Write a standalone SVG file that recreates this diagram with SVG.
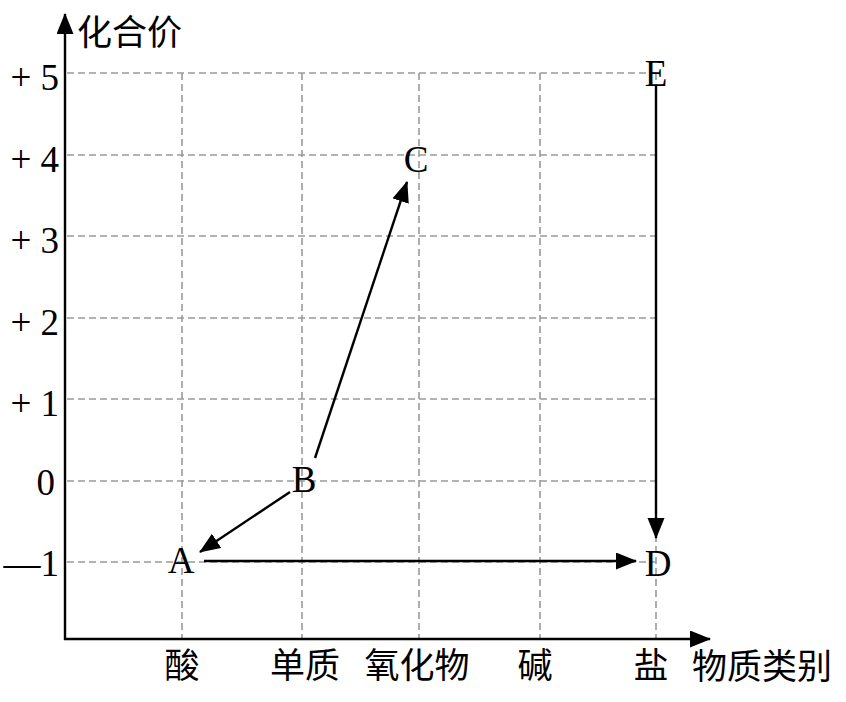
<svg xmlns="http://www.w3.org/2000/svg" width="846" height="702" viewBox="0 0 846 702">
<defs>
<style>
.grid{stroke:#9a9a9a;stroke-width:1.6;stroke-dasharray:7 4;fill:none}
.axis{stroke:#000;stroke-width:2.4;fill:none}
.arr{stroke:#000;stroke-width:2.4;fill:none}
.num{font-family:"Liberation Serif","Times New Roman",serif;font-size:37px;fill:#000}
.pt{font-family:"Liberation Serif","Times New Roman",serif;font-size:37px;fill:#000;text-anchor:middle}
.cjk{font-family:"Noto Sans CJK SC","Noto Sans",sans-serif;font-size:35px;fill:#000}
</style>
<marker id="ah" markerUnits="userSpaceOnUse" markerWidth="22" markerHeight="18" refX="20" refY="8.5" orient="auto">
<path d="M0,0 L21,8.5 L0,17 z" fill="#000"/>
</marker>
</defs>
<rect width="846" height="702" fill="#fff"/>
<g id="grid">
<path class="grid" d="M67,73H656 M67,155H656 M67,236H656 M67,318H656 M67,399H656 M67,481H656 M67,562H656"/>
<path class="grid" d="M182,73V638 M302,73V638 M419,73V638 M540,73V638 M656,73V638"/>
</g>
<g id="axes">
<line class="axis" x1="65" y1="640" x2="65" y2="14" marker-end="url(#ah)"/>
<line class="axis" x1="64" y1="639" x2="710" y2="639" marker-end="url(#ah)"/>
<text class="cjk" x="77" y="45">化合价</text>
<text class="cjk" x="692" y="679">物质类别</text>
</g>
<g id="ylabels" class="num" text-anchor="end">
<text x="59" y="90">+ 5</text>
<text x="59" y="172">+ 4</text>
<text x="59" y="253">+ 3</text>
<text x="59" y="335">+ 2</text>
<text x="59" y="416">+ 1</text>
<text x="55" y="495">0</text>
<text x="59" y="576">—1</text>
</g>
<g id="xlabels" class="cjk" text-anchor="middle">
<text x="182" y="678">酸</text>
<text x="305" y="678">单质</text>
<text x="417" y="678">氧化物</text>
<text x="535" y="678">碱</text>
<text x="651" y="678">盐</text>
</g>
<g id="connectors">
<line class="arr" x1="315" y1="458" x2="407" y2="182" marker-end="url(#ah)"/>
<line class="arr" x1="290" y1="492" x2="200" y2="552" marker-end="url(#ah)"/>
<line class="arr" x1="204" y1="561" x2="636" y2="561" marker-end="url(#ah)"/>
<line class="arr" x1="656" y1="86" x2="656" y2="538" marker-end="url(#ah)"/>
</g>
<g id="node-A"><text class="pt" x="181" y="573">A</text></g>
<g id="node-B"><text class="pt" x="304" y="492">B</text></g>
<g id="node-C"><text class="pt" x="416" y="172">C</text></g>
<g id="node-D"><text class="pt" x="658" y="576">D</text></g>
<g id="node-E"><text class="pt" x="656" y="86">E</text></g>
</svg>
